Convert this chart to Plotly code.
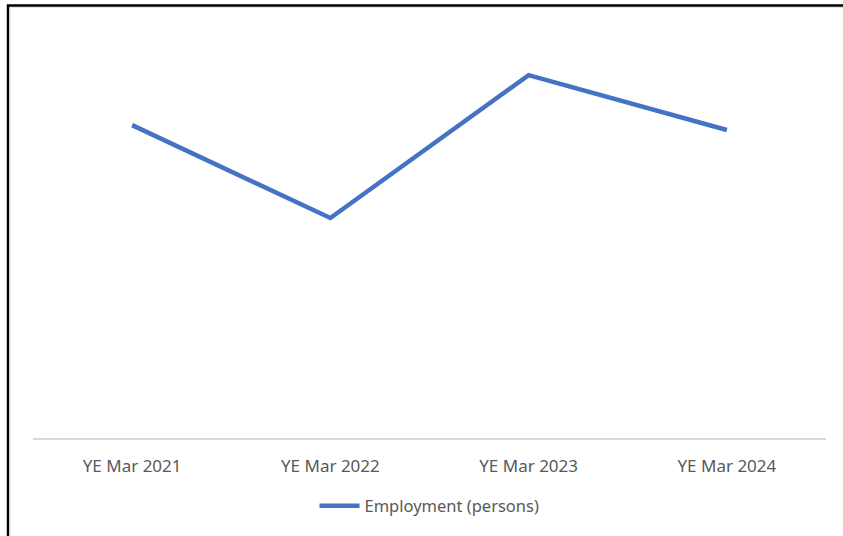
import plotly.graph_objects as go

# Annual employment, years ending March
periods = ["YE Mar 2021", "YE Mar 2022", "YE Mar 2023", "YE Mar 2024"]
employment = [10950, 7700, 12700, 10780]

LINE_BLUE = "#4472C4"
TEXT_GREY = "#595959"
AXIS_GREY = "#d9d9d9"
FONT = "Noto Sans"

fig = go.Figure()
fig.add_trace(go.Scatter(
    x=periods,
    y=employment,
    mode="lines",
    name="Employment (persons)",
    line=dict(color=LINE_BLUE, width=4.5),
))

# Frame drawn around the whole chart area
fig.add_shape(type="rect", xref="paper", yref="paper",
              x0=-0.0315, x1=1.2, y0=-0.5, y1=1.081,
              line=dict(color="#000000", width=2.5), layer="above")
fig.add_shape(type="rect", xref="paper", yref="paper",
              x0=-0.029, x1=1.2, y0=-0.5, y1=1.076,
              line=dict(color="#e0e0e0", width=1), layer="above")

fig.update_layout(
    width=843, height=536,
    margin=dict(l=33, r=17, t=38, b=98),
    paper_bgcolor="white",
    plot_bgcolor="white",
    font=dict(family=FONT, size=16, color=TEXT_GREY),
    showlegend=True,
    legend=dict(orientation="h", x=0.5, xanchor="center", y=-0.17, yanchor="middle",
                font=dict(family=FONT, size=16.5, color=TEXT_GREY),
                itemwidth=40),
    xaxis=dict(
        type="category",
        range=[-0.5, 3.5],
        showline=True, linecolor=AXIS_GREY, linewidth=1.5,
        showgrid=False, zeroline=False,
        ticks="", ticklabelstandoff=12,
        tickfont=dict(family=FONT, size=17, color=TEXT_GREY),
    ),
    yaxis=dict(
        range=[0, 14000],
        visible=False,
        showgrid=False, zeroline=False,
    ),
)

fig.write_html("out.html")
